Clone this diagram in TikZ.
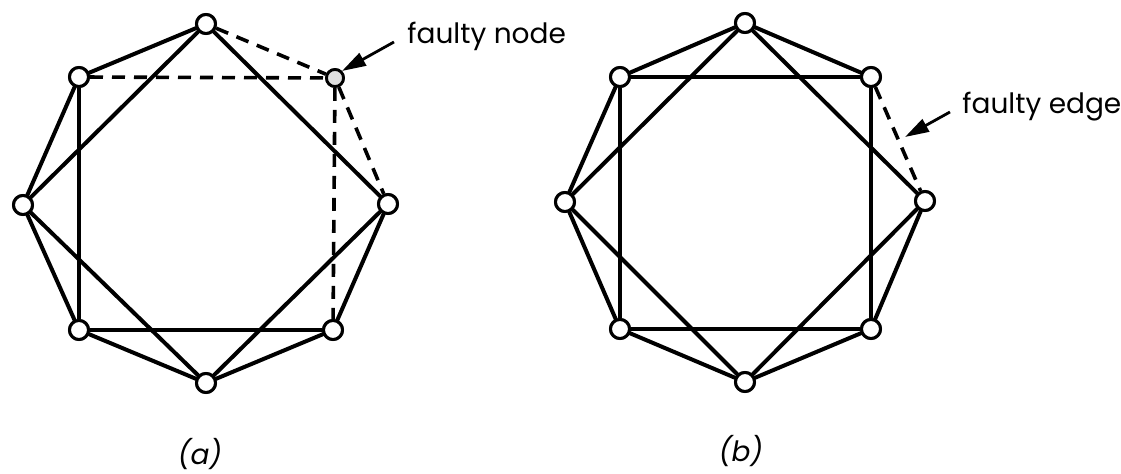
\documentclass[tikz,border=0pt]{standalone}
\usepackage{fontspec}
\setmainfont{Poppins}
\usepackage{tikz}
\usetikzlibrary{arrows.meta}
\tikzset{
  vertex/.style={circle, draw=black, fill=white, minimum size=9.5pt,
    inner sep=0pt, line width=1.5pt},
  badvertex/.style={circle, draw=black, fill=gray!25, minimum size=8.5pt,
    inner sep=0pt, line width=1.4pt},
  ring/.style={line width=2pt, line cap=round},
  cross/.style={line width=1.6pt},
  faulty/.style={line width=1.8pt, dash pattern=on 6.5pt off 4.5pt},
  pointer/.style={-{Triangle[length=12pt, width=7pt]}, line width=1.4pt},
  note/.style={font=\fontsize{14}{16}\selectfont, inner sep=0pt},
  caption/.style={font=\fontsize{14}{16}\selectfont\itshape, inner sep=0pt}
}

\begin{document}
\begin{tikzpicture}[x=0.5pt, y=-0.5pt]
  \useasboundingbox (0,0) rectangle (1121,474);

  % (a) faulty node
  \node[vertex] (a1) at (206,24) {};
  \node[badvertex] (a2) at (335,78) {};
  \node[vertex] (a3) at (388,204) {};
  \node[vertex] (a4) at (333,330) {};
  \node[vertex] (a5) at (206,383) {};
  \node[vertex] (a6) at (79,330) {};
  \node[vertex] (a7) at (23,205) {};
  \node[vertex] (a8) at (79,77) {};

  \draw[faulty] (a1) -- (a2);
  \draw[faulty] (a2) -- (a3);
  \draw[ring] (a3) -- (a4);
  \draw[ring] (a4) -- (a5);
  \draw[ring] (a5) -- (a6);
  \draw[ring] (a6) -- (a7);
  \draw[ring] (a7) -- (a8);
  \draw[ring] (a8) -- (a1);
  \draw[ring] (a1) -- (a3);
  \draw[ring] (a3) -- (a5);
  \draw[ring] (a5) -- (a7);
  \draw[ring] (a7) -- (a1);
  \draw[faulty] (a8) -- (a2);
  \draw[faulty] (a2) -- (a4);
  \draw[cross] (a4) -- (a6);
  \draw[cross] (a6) -- (a8);

  \foreach \v in {a1,a3,a4,a5,a6,a7,a8} \node[vertex] at (\v) {};
  \node[badvertex] at (a2) {};

  \node[note, anchor=base west] (nodetext) at (407,44) {faulty node};
  \coordinate (nodetail) at (394,42);
  \draw[pointer] (nodetail) -- (a2.north east);

  % (b) faulty edge
  \node[vertex] (b1) at (745,23) {};
  \node[vertex] (b2) at (871,77) {};
  \node[vertex] (b3) at (925,201) {};
  \node[vertex] (b4) at (871,329) {};
  \node[vertex] (b5) at (745,382) {};
  \node[vertex] (b6) at (620,329) {};
  \node[vertex] (b7) at (565,202) {};
  \node[vertex] (b8) at (620,77) {};

  \draw[ring] (b1) -- (b2);
  \draw[faulty] (b2) -- (b3);
  \draw[ring] (b3) -- (b4);
  \draw[ring] (b4) -- (b5);
  \draw[ring] (b5) -- (b6);
  \draw[ring] (b6) -- (b7);
  \draw[ring] (b7) -- (b8);
  \draw[ring] (b8) -- (b1);
  \draw[ring] (b1) -- (b3);
  \draw[ring] (b3) -- (b5);
  \draw[ring] (b5) -- (b7);
  \draw[ring] (b7) -- (b1);
  \draw[cross] (b8) -- (b2);
  \draw[cross] (b2) -- (b4);
  \draw[cross] (b4) -- (b6);
  \draw[cross] (b6) -- (b8);

  \foreach \v in {b1,b2,b3,b4,b5,b6,b7,b8} \node[vertex] at (\v) {};

  \node[note, anchor=base west] (edgetext) at (962,114) {faulty edge};
  \coordinate (edgetail) at (950,112);
  \coordinate (edgetip) at (905,137);
  \draw[pointer] (edgetail) -- (edgetip);

  \node[caption, anchor=base] (capa) at (200,465) {(a)};
  \node[caption, anchor=base] (capb) at (741,462) {(b)};
\end{tikzpicture}
\end{document}
